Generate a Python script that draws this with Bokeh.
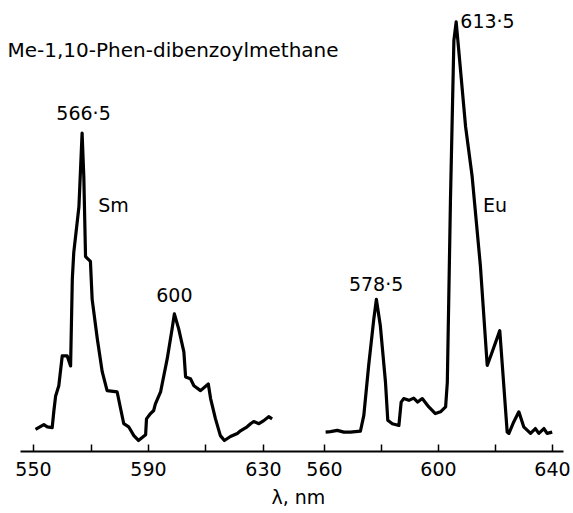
from bokeh.plotting import figure
from bokeh.models import Range1d, LinearAxis, FixedTicker, Label, Title
from bokeh.core.properties import value
from bokeh.embed import file_html
from bokeh.resources import INLINE

# Sm spectrum (left panel), wavelength in nm and relative intensity
sm_nm = [550.7, 553.6, 554.8, 556.5, 557.1, 557.7, 558.8, 560.0, 561.7, 562.9, 563.5, 564.0,
         565.8, 566.9, 567.5, 568.1, 569.8, 570.4, 572.2, 573.9, 575.6, 579.1, 580.3, 581.4,
         583.1, 584.9, 586.5, 589.0, 589.3, 590.7, 591.8, 592.4, 594.2, 596.5, 598.2, 599.0,
         600.5, 602.3, 602.9, 604.6, 605.8, 608.1, 610.8, 611.6, 613.3, 615.0, 616.4, 618.5,
         620.9, 622.0, 624.3, 625.5, 626.6, 628.4, 630.1, 631.8, 633.0]
sm_int = [5.0, 6.1, 5.6, 5.4, 9.3, 12.6, 14.9, 21.7, 21.7, 19.4, 39.1, 45.1,
          55.5, 72.2, 62.3, 44.2, 43.1, 34.5, 25.5, 18.1, 13.8, 13.5, 9.7, 6.3,
          5.6, 3.6, 2.5, 3.8, 7.4, 8.6, 9.3, 10.8, 13.5, 21.0, 27.8, 31.2,
          27.8, 22.6, 16.9, 16.5, 14.9, 13.8, 15.3, 12.0, 7.4, 3.6, 2.5, 3.4,
          4.1, 4.7, 5.6, 6.3, 6.8, 6.3, 7.0, 7.9, 7.4]

# Eu spectrum (right panel)
eu_nm = [560.4, 562.1, 564.5, 566.8, 569.1, 572.6, 573.8, 575.5, 577.3, 578.2, 579.6, 581.4,
         582.2, 583.8, 586.1, 586.9, 587.8, 589.6, 591.3, 592.7, 594.3, 596.6, 598.9, 600.7,
         602.5, 603.1, 603.6, 604.2, 605.4, 606.2, 607.1, 609.5, 611.8, 614.7, 617.1, 618.8,
         621.5, 622.4, 624.1, 624.7, 626.4, 628.2, 629.9, 632.3, 634.0, 635.2, 637.0, 638.1,
         639.9]
eu_int = [4.4, 4.5, 4.8, 4.4, 4.4, 4.6, 8.2, 19.5, 30.0, 34.5, 28.5, 15.7,
          7.1, 6.3, 5.9, 11.2, 12.0, 11.6, 12.1, 11.2, 12.0, 10.1, 8.6, 9.0,
          10.1, 15.7, 34.5, 57.1, 93.2, 97.4, 91.0, 73.7, 62.4, 42.1, 19.5, 22.5,
          27.4, 19.5, 4.4, 4.1, 6.7, 9.0, 5.6, 4.1, 5.2, 4.1, 5.2, 4.1,
          4.4]

sm_ticks = [550, 590, 630]
sm_minor = [570, 610]
eu_ticks = [560, 600, 640]
eu_minor = [580, 620]

sm_labels = ["566·5", "Sm", "600"]
sm_label_x = [567.4, 577.8, 599.0]
sm_label_y = [76.7, 56.0, 35.4]
eu_labels = ["578·5", "613·5", "Eu"]
eu_label_x = [578.1, 617.2, 619.8]
eu_label_y = [37.9, 97.7, 55.8]

FONT = "DejaVu Sans"

SM_RANGE = (538.52, 737.83)
EU_RANGE = (446.32, 647.37)

p = figure(width=573, height=513, output_backend="svg", toolbar_location=None,
           x_range=Range1d(*SM_RANGE), y_range=Range1d(0, 102.26),
           x_axis_location=None, y_axis_location=None,
           min_border_left=0, min_border_right=0, min_border_top=0, min_border_bottom=60)
p.extra_x_ranges = {"eu": Range1d(*EU_RANGE)}
p.outline_line_color = None
p.grid.visible = False


def eu_to_axis(v):
    # position of an Eu-scale wavelength on the shared bottom axis
    return SM_RANGE[0] + (v - EU_RANGE[0]) * (SM_RANGE[1] - SM_RANGE[0]) / (EU_RANGE[1] - EU_RANGE[0])


major_pos = sm_ticks + [eu_to_axis(v) for v in eu_ticks]
minor_pos = sm_minor + [eu_to_axis(v) for v in eu_minor]
overrides = {eu_to_axis(v): str(v) for v in eu_ticks}

ax = LinearAxis(bounds=(545.48, 734.35), ticker=FixedTicker(ticks=major_pos, minor_ticks=minor_pos),
                major_label_overrides=overrides)
ax.axis_line_width = 2
ax.axis_line_color = "black"
ax.major_tick_in = 7
ax.major_tick_out = 0
ax.minor_tick_in = 7
ax.minor_tick_out = 0
ax.major_tick_line_width = 1.5
ax.minor_tick_line_width = 1.5
ax.major_tick_line_color = "black"
ax.minor_tick_line_color = "black"
ax.major_label_text_font = FONT
ax.major_label_text_font_size = "19px"
ax.major_label_text_color = "black"
ax.major_label_standoff = 10
p.add_layout(ax, "below")

p.add_layout(Title(text="λ, nm", align="left", offset=271, text_font=FONT,
                   text_font_size="19px", text_font_style="normal", text_color="black",
                   standoff=11), "below")

p.line(sm_nm, sm_int, line_color="black", line_width=3.2, line_join="round")
p.line(eu_nm, eu_int, line_color="black", line_width=3.2, line_join="round", x_range_name="eu")

p.text(sm_label_x, sm_label_y, text=sm_labels, text_font=value(FONT), text_font_size="19px",
       text_align="center", text_baseline="middle", text_color="black")
p.text(eu_label_x, eu_label_y, text=eu_labels, text_font=value(FONT), text_font_size="19px",
       text_align="center", text_baseline="middle", text_color="black", x_range_name="eu")

p.add_layout(Label(x=540.95, y=91.0, text="Me-1,10-Phen-dibenzoylmethane", text_font=FONT,
                   text_font_size="20px", text_align="left", text_baseline="middle",
                   text_color="black"))

open("out.html", "w").write(file_html(p, INLINE))
